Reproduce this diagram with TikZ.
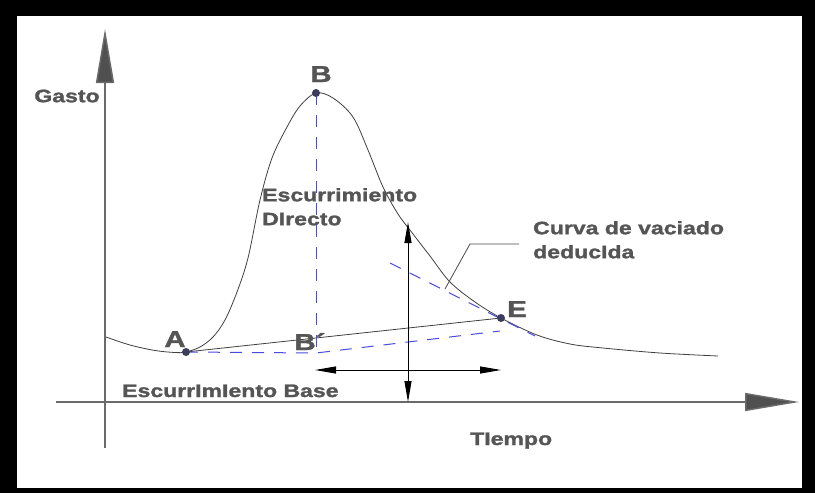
\documentclass[tikz,border=0pt]{standalone}
\usepackage{fontspec}
\usetikzlibrary{arrows.meta,positioning}
\newfontfamily\lblfont[FakeStretch=1.28,FakeBold=1.5]{Liberation Sans Bold}
\definecolor{txtgray}{HTML}{555555}
\definecolor{axisgray}{HTML}{6A6A6A}
\definecolor{tipgray}{HTML}{505050}
\definecolor{dashblue}{HTML}{4A4AE0}
\definecolor{dotnavy}{HTML}{3C3C5C}

\begin{document}
\begin{tikzpicture}[x=1pt,y=-1pt,
  lbl/.style={font=\lblfont\fontsize{18}{24}\selectfont,text=txtgray,inner sep=0pt,align=left},
  ptlbl/.style={font=\lblfont\fontsize{23}{23}\selectfont,text=txtgray,inner sep=0pt},
  axis/.style={draw=axisgray,line width=1.5pt,-{Triangle[length=54pt,width=18pt,fill=tipgray]}},
  hydro/.style={draw=black!75,line width=0.8pt},
  guide/.style={draw=dashblue,line width=1pt,dash pattern=on 12pt off 10pt},
  span/.style={draw=black,line width=1pt,{Triangle[length=21pt,width=7pt]}-{Triangle[length=21pt,width=7pt]}},
  dot/.style={fill=dotnavy}]
  \useasboundingbox (0,0) rectangle (815,493);
  %frame
  \fill[black] (0,0) rectangle (815,493);
  \fill[white] (17,16) rectangle (802,488);

  %points
  \coordinate (O) at (105,402);
  \coordinate (ybot) at (105,448);
  \coordinate (ytop) at (105,29);
  \coordinate (xleft) at (56,402);
  \coordinate (xright) at (799,402);
  \coordinate (A) at (186,352);
  \coordinate (B) at (316,93);
  \coordinate (Bp) at (316,353);
  \coordinate (E) at (501,318);
  \coordinate (Ep) at (500,331);
  \coordinate (R1) at (390,263);
  \coordinate (R2) at (535,336);
  \coordinate (Vtop) at (408,222);
  \coordinate (Vbot) at (408,402);
  \coordinate (Hl) at (315,370);
  \coordinate (Hr) at (501,370);
  \coordinate (L1) at (519,244);
  \coordinate (L2) at (470,244);
  \coordinate (L3) at (445,289);

  %axes
  \draw[axis] (ybot) -- (ytop);
  \draw[axis] (xleft) -- (xright);

  %hydrograph
  \draw[hydro] plot[smooth,tension=0.55] coordinates {(106,337) (130,345) (155,350.5) (175,352.5) (186,352)
    (200,347) (213,337) (225,320) (237,292) (248,258) (260,200) (272,158) (287,127) (300,106) (316,93)
    (333,98) (353,117) (368,150) (383,187) (398,214) (413,234) (430,256) (450,282) (475,302) (501,318)
    (537,335) (570,344) (603,348) (660,353) (718,356)};
  \draw[hydro] (A) -- (E);

  %guides
  \draw[guide] (B) -- (Bp);
  \draw[guide] (A) -- (Bp) -- (Ep);
  \draw[guide] (R1) -- (R2);

  %spans
  \draw[span] (Vtop) -- (Vbot);
  \draw[span] (Hl) -- (Hr);

  %leader
  \draw[draw=black!70,line width=0.8pt] (L1) -- (L2) -- (L3);

  %dots
  \fill[dot] (A) circle (4);
  \fill[dot] (B) circle (4);
  \fill[dot] (E) circle (4);

  %labels
  \node[ptlbl,anchor=base] (Alab) at (175,347) {A};
  \node[ptlbl,anchor=base] (Blab) at (321,82) {B};
  \node[ptlbl,anchor=base] (Elab) at (517,317) {E};
  \node[ptlbl,anchor=base] (Bplab) at (310,350) {B´};
  \node[lbl] (gasto) at (67,96) {Gasto};
  \node[lbl,anchor=north west] (directo) at (262,188) {Escurrimiento\\DIrecto};
  \node[lbl,anchor=north west] (curva) at (533,221) {Curva de vaciado\\deducIda};
  \node[lbl,anchor=base west] (base) at (122,397) {EscurrImIento Base};
  \node[lbl,anchor=base west] (tiempo) at (470,445) {TIempo};
\end{tikzpicture}
\end{document}
